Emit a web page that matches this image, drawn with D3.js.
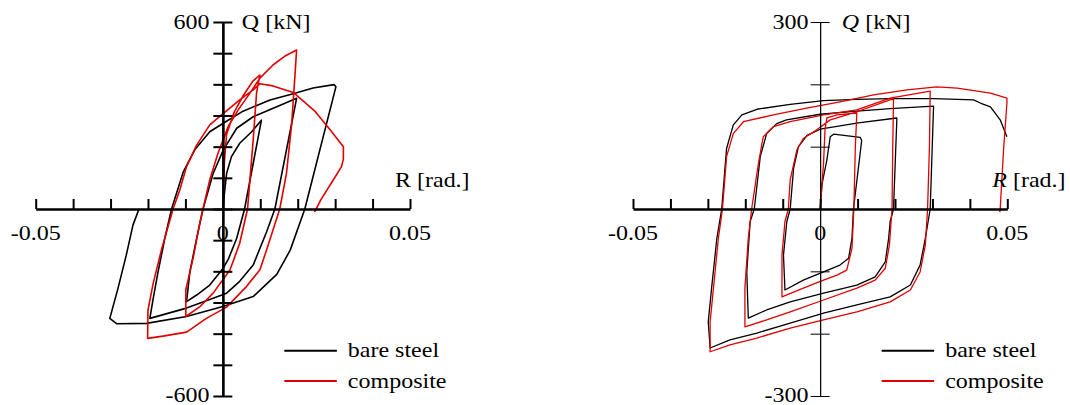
<!DOCTYPE html>
<html>
<head>
<meta charset="utf-8">
<script src="https://cdn.jsdelivr.net/npm/d3@7"></script>
<style>
  body { margin: 0; background: #fff; }
  svg { display: block; }
</style>
</head>
<body>
<script>
// story drift angle R [rad.] vs shear Q [kN]

// left panel
const leftSteel = [
  [0, 0], [0.0005, 60], [0.001, 114], [0.0023, 168], [0.0045, 211], [0.0077, 248], [0.0103, 285],
  [0.0058, 0], [0.0037, -94], [0.0015, -160], [0.0001, -190], [-0.0035, -244], [-0.007, -276], [-0.0097, -297],
  [-0.0088, -201], [-0.007, -94], [-0.0053, 0], [-0.0026, 114], [0.0001, 189], [0.0037, 259], [0.0081, 296], [0.0144, 328], [0.0197, 355],
  [0.0139, 0], [0.0117, -73], [0.0081, -180], [0.0045, -232], [0.001, -270], [-0.0035, -290], [-0.0097, -318], [-0.0195, -351],
  [-0.0186, -287], [-0.0173, -201], [-0.0155, -94], [-0.0137, 0], [-0.0106, 118], [-0.0075, 190], [-0.0035, 248], [0.0001, 275], [0.0054, 314], [0.0126, 350], [0.0188, 370], [0.0241, 388], [0.0297, 399], [0.0302, 392],
  [0.0219, 0], [0.018, -132], [0.0144, -210], [0.0081, -281], [0, -313], [-0.0097, -345], [-0.0204, -367], [-0.0284, -368], [-0.0302, -351],
  [-0.028, -254], [-0.0258, -148], [-0.024, -51], [-0.0224, 0]
];
const leftComp = [
  [0, 0], [0.0004, 150], [0.001, 240], [0.003, 310], [0.0055, 365], [0.008, 410], [0.0099, 430],
  [0.0094, 400], [0.009, 371], [0.0081, 221], [0.0066, 0], [0.0045, -110], [0.0019, -196], [-0.0026, -270], [-0.0061, -313], [-0.0099, -345],
  [-0.0099, -260], [-0.0079, -155], [-0.0061, -41], [-0.0053, 0], [-0.0035, 93], [-0.0013, 179], [0.0014, 264], [0.0041, 318], [0.0072, 371], [0.0099, 420], [0.0134, 462], [0.0165, 490], [0.0197, 510],
  [0.0193, 435], [0.0184, 275], [0.017, 114], [0.0152, 0], [0.0117, -131], [0.0099, -195], [0.0063, -249], [0.001, -315], [-0.0044, -351], [-0.0097, -395], [-0.016, -408], [-0.0201, -415],
  [-0.02, -324], [-0.0186, -238], [-0.0164, -131], [-0.0133, 0], [-0.0115, 61], [-0.0097, 136], [-0.007, 205], [-0.0035, 270], [0, 305], [0.0045, 350], [0.0081, 382], [0.0099, 402],
  [0.0134, 395], [0.0188, 374], [0.0245, 315], [0.0286, 255], [0.0322, 200], [0.0322, 160], [0.0317, 136], [0.0295, 93], [0.0262, 30], [0.0245, -10]
];

// right panel
const rightSteel = [
  [0, 0], [0.0005, 40], [0.0018, 79], [0.0027, 116], [0.0036, 120], [0.0107, 115], [0.0111, 110],
  [0.0089, 0], [0.0085, -47], [0.0076, -79], [0.0053, -90], [0.0009, -101], [-0.0045, -114], [-0.0094, -130],
  [-0.0098, -74], [-0.0089, -20], [-0.008, 0], [-0.0071, 65], [-0.0058, 100], [-0.0035, 118], [0, 128], [0.0102, 138], [0.0205, 146],
  [0.0196, 0], [0.0187, -20], [0.0183, -47], [0.0174, -85], [0.0147, -109], [0.0098, -122], [0.0009, -135], [-0.008, -149], [-0.0143, -162], [-0.0192, -175],
  [-0.0196, -101], [-0.0187, -20], [-0.0176, 0], [-0.016, 84], [-0.0143, 121], [-0.0116, 137], [-0.009, 143], [0, 152], [0.0098, 157], [0.0187, 161], [0.0303, 165],
  [0.0294, 0], [0.0281, -47], [0.0267, -90], [0.0241, -122], [0.0187, -141], [0.0098, -154], [0.0009, -167], [-0.008, -183], [-0.0169, -199], [-0.0241, -210], [-0.0294, -223],
  [-0.0299, -181], [-0.029, -127], [-0.0276, -47], [-0.0263, 0], [-0.0255, 60], [-0.025, 97], [-0.0232, 135], [-0.0209, 151], [-0.0169, 160], [-0.008, 168], [0.0009, 174],
  [0.0098, 176], [0.0187, 177], [0.0303, 177], [0.041, 175], [0.0428, 170], [0.0455, 164], [0.0481, 143], [0.0499, 116]
];
const rightComp = [
  [0, 0], [0.0005, 40], [0.0009, 73], [0.0013, 127], [0.0018, 146], [0.0045, 151], [0.0098, 154],
  [0.0094, 100], [0.009, 0], [0.0085, -63], [0.0071, -98], [0.0045, -106], [0.0009, -114], [-0.0045, -127], [-0.0102, -141],
  [-0.0102, -74], [-0.0094, -20], [-0.0085, 0], [-0.008, 47], [-0.0062, 95], [-0.0045, 113], [-0.0009, 127], [0.0027, 143], [0.0098, 156], [0.0196, 177],
  [0.0194, 100], [0.0192, 0], [0.0185, -58], [0.0174, -95], [0.0147, -114], [0.0098, -127], [0.0009, -146], [-0.008, -165], [-0.0143, -178], [-0.0201, -189],
  [-0.0201, -127], [-0.0192, -47], [-0.0183, 0], [-0.0165, 73], [-0.0152, 116], [-0.0125, 132], [-0.008, 140], [0.0009, 151], [0.0098, 159], [0.0187, 178], [0.0294, 189],
  [0.0292, 100], [0.0287, 0], [0.0281, -58], [0.0267, -101], [0.0241, -130], [0.0187, -149], [0.0098, -165], [0.0009, -178], [-0.008, -191], [-0.0169, -207], [-0.0241, -218], [-0.0294, -229],
  [-0.0294, -181], [-0.0285, -127], [-0.0272, -47], [-0.0261, 0], [-0.025, 84], [-0.0232, 121], [-0.0205, 140], [-0.0125, 151], [-0.0036, 162], [0.0053, 172], [0.0143, 183],
  [0.0232, 191], [0.0312, 196], [0.0366, 194], [0.0455, 186], [0.0499, 178],
  [0.0499, 170], [0.049, 95], [0.0481, 0], [0.048, -5]
];

const rTicks = [-0.05, -0.04, -0.03, -0.02, -0.01, 0, 0.01, 0.02, 0.03, 0.04, 0.05];
const rLabels = [-0.05, 0, 0.05];
const qTicksLeft = [-600, -500, -400, -300, -200, -100, 0, 100, 200, 300, 400, 500, 600];
const qTicksRight = [-300, -200, -100, 0, 100, 200, 300];
const seriesNames = ["bare steel", "composite"];
const seriesColors = ["#000", "#e00000"];

const w = 1070;
const h = 405;
const svg = d3.select("body").append("svg").attr("width", w).attr("height", h);
const serif = "'Liberation Serif', 'Times New Roman', Times, serif";

// glyphs in the picture are about 1.2x wider than plain Times
function label(g, x, y, parts, anchor) {
  const t = g.append("text")
    .attr("font-family", serif)
    .attr("font-size", 20)
    .attr("fill", "#000")
    .attr("text-anchor", anchor)
    .attr("transform", `translate(${x},${y}) scale(1.2,1)`);
  parts.forEach((p) => {
    t.append("tspan").attr("font-style", p.italic ? "italic" : null).text(p.s);
  });
}

const fmtR = (v) => (v === 0 ? "0" : d3.format(".2f")(v).replace("−", "-"));

const panels = [
  {
    x0: 35.7, x1: 410, qMax: 600, qTicks: qTicksLeft, steel: leftSteel, comp: leftComp,
    italic: false, curveW: 1.6, yAxisW: 2.2, yTickW: 2, qGap: 13.4, titleGap: 19
  },
  {
    x0: 633, x1: 1007.3, qMax: 300, qTicks: qTicksRight, steel: rightSteel, comp: rightComp,
    italic: true, curveW: 1.3, yAxisW: 1, yTickW: 1, qGap: 11.7, titleGap: 21.7
  }
];

panels.forEach((p) => {
  const g = svg.append("g");
  const x = d3.scaleLinear().domain([-0.05, 0.05]).range([p.x0, p.x1]);
  const y = d3.scaleLinear().domain([-p.qMax, p.qMax]).range([396, 22]);
  const ox = x(0);
  const oy = y(0);

  // hysteresis curves
  const line = d3.line().x((d) => x(d[0])).y((d) => y(d[1]));
  [p.steel, p.comp].forEach((data, i) => {
    g.append("path")
      .datum(data)
      .attr("d", line)
      .attr("fill", "none")
      .attr("stroke", seriesColors[i])
      .attr("stroke-width", p.curveW)
      .attr("stroke-linejoin", "round");
  });

  // R axis, ticks pointing up
  const xAxis = d3.axisBottom(x).tickValues(rTicks).tickSizeInner(-10).tickSizeOuter(0).tickFormat("");
  g.append("g")
    .attr("transform", `translate(0,${oy})`)
    .call(xAxis)
    .call((a) => a.select(".domain").attr("stroke-width", 2.5))
    .call((a) => a.selectAll(".tick line").attr("stroke-width", 2));

  // Q axis, ticks crossing
  const yAxisL = d3.axisLeft(y).tickValues(p.qTicks).tickSizeInner(9.5).tickSizeOuter(0).tickFormat("");
  const yAxisR = d3.axisRight(y).tickValues(p.qTicks).tickSizeInner(9.5).tickSizeOuter(0).tickFormat("");
  [yAxisL, yAxisR].forEach((ax) => {
    g.append("g")
      .attr("transform", `translate(${ox},0)`)
      .call(ax)
      .call((a) => a.select(".domain").attr("stroke-width", p.yAxisW))
      .call((a) => a.selectAll(".tick line").attr("stroke-width", p.yTickW));
  });

  // tick labels
  rLabels.forEach((v) => label(g, x(v), oy + 31, [{ s: fmtR(v) }], "middle"));
  label(g, ox - p.qGap, y(p.qMax) + 6.5, [{ s: String(p.qMax) }], "end");
  label(g, ox - p.qGap, y(-p.qMax) + 5.5, [{ s: String(-p.qMax) }], "end");

  // axis titles
  label(g, ox + p.titleGap, y(p.qMax) + 6.5, [{ s: "Q", italic: p.italic }, { s: " [kN]" }], "start");
  label(g, p.x1 - 15, oy - 22, [{ s: "R", italic: p.italic }, { s: " [rad.]" }], "start");

  // legend
  seriesNames.forEach((name, i) => {
    const ly = 350.7 + i * 30.3;
    g.append("line")
      .attr("x1", ox + 61.5).attr("x2", ox + 114)
      .attr("y1", ly).attr("y2", ly)
      .attr("stroke", seriesColors[i])
      .attr("stroke-width", 2);
    label(g, ox + 125, ly + 6.5, [{ s: name }], "start");
  });
});
</script>
</body>
</html>
